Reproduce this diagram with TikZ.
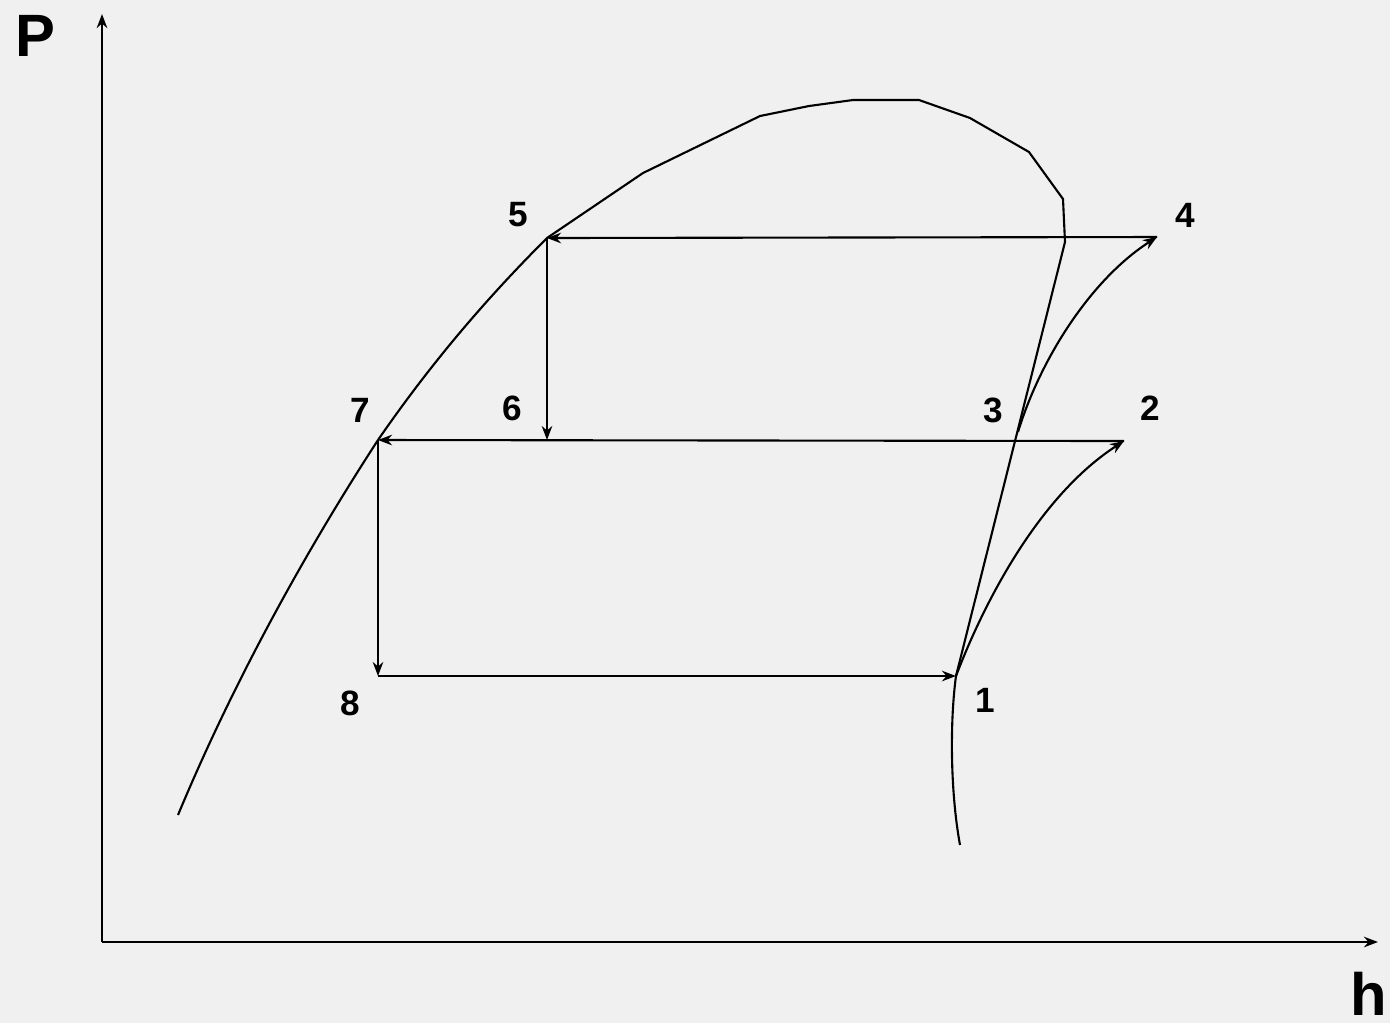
\documentclass[tikz,border=0pt]{standalone}
\usepackage{fontspec}
\setmainfont{Liberation Sans}
\usetikzlibrary{arrows.meta}
\definecolor{papel}{HTML}{F0F0F0}

\begin{document}
\begin{tikzpicture}[x=0.01cm, y=-0.01cm,
      lbl/.style={font=\fontsize{10}{11}\selectfont\bfseries, inner sep=0pt},
      ejelbl/.style={font=\fontsize{17}{18}\selectfont\bfseries, inner sep=0pt},
      linea/.style={line width=0.6pt},
      eje/.style={line width=0.8pt, -{Stealth[length=4pt,width=3pt]}},
      flecha/.style={linea, -{Stealth[length=4pt,width=3pt]}}]
    \fill[papel] (0,0) rectangle (1390,1023);
    \useasboundingbox (0,0) rectangle (1390,1023);
    \coordinate (o)    at (102,942);
    \coordinate (pmax) at (102,14);
    \coordinate (hmax) at (1378,942);
    \coordinate (p1) at (956,676);
    \coordinate (p2) at (1124,441);
    \coordinate (p3) at (1018,432);
    \coordinate (p4) at (1157,237);
    \coordinate (p5) at (547,238);
    \coordinate (p6) at (547,440);
    \coordinate (p7) at (378,440);
    \coordinate (p8) at (378,676);
    \coordinate (cima) at (1065,242);
    \draw[eje] (o) -- (pmax);
    \draw[eje] (o) -- (hmax);
    \node[ejelbl] (P) at (35,36)   {P};
    \node[ejelbl] (h) at (1369,994) {h};
    \draw[linea] (178,815) .. controls (230,690) and (300,560) .. (p7)
      .. controls (440,350) and (500,285) .. (p5) -- (643,173)
      -- (760,116) -- (809,106) -- (853,100) -- (919,100) -- (970,118)
      -- (1029,152) -- (1063,199) -- (cima) -- (p1)
      .. controls (950,720) and (950,790) .. (960,845);
    \draw[flecha] (p4) -- (p5);
    \draw[flecha] (p5) -- (p6);
    \draw[flecha] (p2) -- (p7);
    \draw[flecha] (p7) -- (p8);
    \draw[flecha] (p8) -- (p1);
    \draw[flecha] (p1) .. controls (985,600) and (1040,495) .. (p2);
    \draw[flecha] (p3) .. controls (1040,360) and (1090,280) .. (p4);
    \node[lbl] (l1) at (985,700)  {1};
    \node[lbl] (l2) at (1150,408) {2};
    \node[lbl] (l3) at (993,410)  {3};
    \node[lbl] (l4) at (1185,215) {4};
    \node[lbl] (l5) at (518,215)  {5};
    \node[lbl] (l6) at (512,408)  {6};
    \node[lbl] (l7) at (360,410)  {7};
    \node[lbl] (l8) at (350,703)  {8};
  \end{tikzpicture}
\end{document}
